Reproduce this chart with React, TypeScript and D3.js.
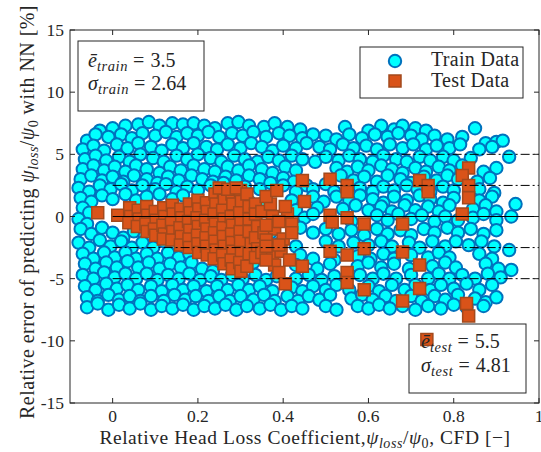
import React from 'react';
import * as d3 from 'd3';

const WIDTH = 541;
const HEIGHT = 452;
const MARGIN = { top: 30, right: 2, bottom: 49, left: 70 };
const FONT = '"Liberation Serif", "Times New Roman", serif';
const INK = '#262626';

const xTicks = [0, 0.2, 0.4, 0.6, 0.8, 1];
const yTicks = [-15, -10, -5, 0, 5, 10, 15];
const solidLevels = [0];
const dashLevels = [5, 2.5, -2.5, -5];
const legendLabels = ['Train Data', 'Test Data'];
const trainStats = ['3.5', '2.64'];
const testStats = ['5.5', '4.81'];

// train samples (x, error %)
const trainPoints: [number, number][] = [
  [-0.03,6.9],[0.0,7.1],[0.03,7.3],[0.06,7.4],[0.085,7.6],[0.11,7.3],[0.14,7.5],[0.165,7.4],[0.19,7.5],[0.215,7.3],[0.24,7.1],[0.27,7.5],[0.295,7.6],[0.32,7.3],[0.355,7.2],[0.38,7.5],[0.41,7.2],[0.44,7.0],[0.545,7.2],[0.6,6.9],[0.63,7.3],[0.66,7.0],[0.68,7.3],[0.71,7.1],[0.735,6.9],[0.85,7.1],
  [-0.06,6.1],[-0.04,6.6],[-0.01,6.4],[0.02,6.6],[0.045,6.3],[0.07,6.7],[0.1,6.5],[0.125,6.8],[0.15,6.4],[0.175,6.7],[0.2,6.5],[0.225,6.8],[0.25,6.4],[0.28,6.7],[0.305,6.5],[0.33,6.8],[0.36,6.4],[0.39,6.7],[0.415,6.5],[0.445,6.3],[0.47,6.6],[0.5,6.5],[0.525,6.2],[0.555,6.6],[0.585,6.3],[0.615,6.6],[0.645,6.4],[0.67,6.7],[0.7,6.5],[0.725,6.2],[0.755,6.5],[0.785,6.2],[0.82,6.4],[0.875,5.9],[0.9,6.0],[0.915,6.1],
  [-0.07,5.4],[-0.045,5.7],[-0.02,5.3],[0.01,5.8],[0.035,5.5],[0.06,5.9],[0.09,5.6],[0.115,5.3],[0.14,5.8],[0.165,5.5],[0.19,5.9],[0.22,5.6],[0.245,5.4],[0.27,5.8],[0.3,5.5],[0.325,5.9],[0.35,5.6],[0.375,5.3],[0.4,5.7],[0.43,5.5],[0.455,5.9],[0.485,5.6],[0.51,5.4],[0.54,5.8],[0.565,5.5],[0.595,5.7],[0.62,5.4],[0.65,5.8],[0.68,5.5],[0.705,5.8],[0.735,5.4],[0.76,5.7],[0.79,5.5],[0.815,5.8],[0.86,5.4],[0.89,5.6],
  [-0.065,4.6],[-0.04,4.9],[-0.015,4.5],[0.015,4.8],[0.04,4.4],[0.065,5.0],[0.095,4.7],[0.12,4.4],[0.15,4.9],[0.175,4.6],[0.2,5.0],[0.23,4.7],[0.255,4.4],[0.285,4.9],[0.31,4.6],[0.34,4.4],[0.365,4.8],[0.39,4.5],[0.42,4.9],[0.445,4.6],[0.475,4.4],[0.5,4.8],[0.53,4.5],[0.555,4.9],[0.58,4.6],[0.61,4.4],[0.635,4.9],[0.665,4.6],[0.69,4.4],[0.72,4.8],[0.745,4.5],[0.775,4.8],[0.8,4.5],[0.84,4.7],[0.93,4.8],
  [-0.07,3.8],[-0.045,4.1],[-0.02,3.7],[0.005,4.0],[0.03,3.6],[0.055,4.1],[0.08,3.8],[0.11,3.5],[0.135,4.0],[0.16,3.7],[0.19,4.1],[0.215,3.8],[0.24,3.6],[0.27,4.0],[0.295,3.7],[0.32,4.1],[0.35,3.8],[0.375,3.5],[0.405,4.0],[0.43,3.7],[0.525,3.9],[0.55,3.6],[0.575,4.0],[0.6,3.7],[0.63,4.1],[0.655,3.8],[0.68,3.5],[0.71,3.9],[0.735,3.6],[0.765,4.0],[0.79,3.7],[0.82,4.1],[0.87,3.6],[0.9,3.9],
  [-0.075,3.0],[-0.05,3.3],[-0.025,2.9],[0.0,3.2],[0.025,2.8],[0.05,3.3],[0.08,3.0],[0.105,2.7],[0.13,3.2],[0.155,2.9],[0.185,3.3],[0.21,3.0],[0.235,2.8],[0.265,3.2],[0.29,2.9],[0.32,3.3],[0.345,3.0],[0.37,2.7],[0.4,3.1],[0.425,2.8],[0.455,2.5],[0.5,2.6],[0.535,3.3],[0.565,2.9],[0.59,3.2],[0.62,2.8],[0.645,3.3],[0.675,3.0],[0.7,2.7],[0.73,3.2],[0.76,2.9],[0.785,3.3],[0.81,3.0],[0.855,2.8],[0.885,3.1],
  [-0.08,2.3],[-0.055,2.0],[-0.03,2.5],[-0.005,2.2],[0.02,2.6],[0.045,2.1],[0.07,2.5],[0.1,2.2],[0.125,2.6],[0.15,2.0],[0.175,2.4],[0.2,2.1],[0.23,2.5],[0.26,2.7],[0.31,2.4],[0.345,2.2],[0.4,2.5],[0.43,2.0],[0.47,2.2],[0.52,2.0],[0.58,2.3],[0.61,2.0],[0.635,2.4],[0.66,2.1],[0.69,2.5],[0.715,2.2],[0.745,2.0],[0.775,2.4],[0.8,2.1],[0.86,2.2],[0.895,1.9],
  [-0.075,1.5],[-0.05,1.2],[-0.025,1.7],[0.0,1.4],[0.03,1.8],[0.055,1.3],[0.08,1.6],[0.11,1.8],[0.14,1.4],[0.165,1.7],[0.29,1.4],[0.32,1.2],[0.35,1.0],[0.42,1.3],[0.47,1.6],[0.495,1.2],[0.525,1.6],[0.555,1.3],[0.58,1.7],[0.61,1.4],[0.635,1.1],[0.66,1.6],[0.69,1.3],[0.72,1.7],[0.745,1.4],[0.775,1.1],[0.8,1.5],[0.86,1.3],[0.89,1.6],[0.945,1.0],
  [-0.07,0.7],[-0.055,0.3],[0.33,0.8],[0.48,0.7],[0.54,0.6],[0.57,0.9],[0.6,0.5],[0.63,0.8],[0.655,0.4],[0.685,0.9],[0.71,0.5],[0.74,0.8],[0.765,0.4],[0.79,0.9],[0.845,0.6],[0.875,0.9],[0.9,0.4],
  [-0.08,-0.2],[-0.06,-0.6],[0.32,0.3],[0.335,-0.2],[0.43,0.5],[0.45,-0.1],[0.47,0.2],[0.56,-0.4],[0.62,0.1],[0.645,-0.3],[0.67,0.2],[0.7,-0.2],[0.725,0.1],[0.755,-0.4],[0.78,0.0],[0.81,-0.3],[0.845,-0.1],[0.87,0.2],[0.9,-0.3],[0.935,0.0],
  [-0.075,-1.0],[-0.05,-1.4],[-0.025,-0.9],[0.0,-1.3],[0.025,-1.7],[0.05,-1.2],[0.075,-1.6],[0.33,-1.1],[0.37,-1.3],[0.44,-0.9],[0.47,-1.3],[0.5,-1.0],[0.53,-1.4],[0.56,-1.1],[0.59,-1.5],[0.62,-1.0],[0.645,-1.4],[0.675,-1.1],[0.7,-1.5],[0.73,-1.0],[0.755,-1.3],[0.785,-0.9],[0.81,-1.3],[0.84,-1.0],[0.87,-1.4],[0.9,-1.1],
  [-0.08,-2.1],[-0.055,-2.5],[-0.03,-1.9],[-0.005,-2.4],[0.02,-2.0],[0.045,-2.5],[0.07,-2.1],[0.095,-2.5],[0.12,-2.0],[0.145,-2.6],[0.31,-2.1],[0.39,-2.2],[0.43,-2.4],[0.5,-2.0],[0.53,-2.4],[0.565,-2.1],[0.6,-2.3],[0.63,-2.0],[0.655,-2.4],[0.695,-2.1],[0.72,-2.5],[0.75,-2.0],[0.78,-2.4],[0.805,-2.0],[0.835,-2.3],[0.865,-2.0],[0.895,-2.4],[0.93,-2.7],
  [-0.07,-3.0],[-0.045,-3.4],[-0.02,-2.9],[0.005,-3.3],[0.03,-2.9],[0.055,-3.4],[0.08,-3.0],[0.105,-3.4],[0.13,-2.9],[0.155,-3.3],[0.18,-3.0],[0.3,-3.2],[0.44,-3.1],[0.47,-3.4],[0.52,-3.5],[0.575,-3.2],[0.605,-3.4],[0.635,-3.0],[0.66,-3.4],[0.7,-3.1],[0.74,-3.3],[0.765,-2.9],[0.79,-3.3],[0.86,-3.0],[0.89,-3.4],
  [-0.065,-3.8],[-0.04,-4.2],[-0.015,-3.7],[0.01,-4.1],[0.035,-3.6],[0.06,-4.1],[0.085,-3.7],[0.11,-4.2],[0.135,-3.8],[0.16,-4.1],[0.185,-3.7],[0.21,-4.2],[0.235,-4.4],[0.31,-4.0],[0.33,-3.7],[0.43,-3.9],[0.48,-4.2],[0.51,-3.8],[0.575,-4.0],[0.6,-3.7],[0.63,-4.1],[0.66,-3.8],[0.695,-4.2],[0.75,-4.0],[0.78,-3.7],[0.805,-4.1],[0.875,-3.8],[0.905,-4.2],[0.935,-4.3],
  [-0.07,-4.7],[-0.045,-5.0],[-0.02,-4.5],[0.005,-4.9],[0.03,-4.6],[0.055,-5.0],[0.08,-4.6],[0.105,-5.1],[0.13,-4.7],[0.155,-5.0],[0.18,-4.6],[0.205,-5.1],[0.23,-4.8],[0.255,-5.1],[0.28,-4.7],[0.305,-5.0],[0.335,-4.7],[0.36,-5.1],[0.385,-4.8],[0.43,-5.0],[0.46,-4.7],[0.49,-5.1],[0.52,-4.8],[0.58,-4.7],[0.61,-5.0],[0.635,-4.6],[0.665,-5.0],[0.7,-4.7],[0.74,-5.0],[0.765,-4.6],[0.79,-5.0],[0.82,-4.7],[0.85,-5.0],[0.88,-4.6],[0.91,-4.9],
  [-0.065,-5.6],[-0.04,-5.9],[-0.015,-5.4],[0.01,-5.8],[0.035,-5.5],[0.06,-5.9],[0.09,-5.6],[0.115,-6.0],[0.14,-5.5],[0.165,-5.9],[0.19,-5.6],[0.22,-6.0],[0.245,-5.6],[0.27,-5.9],[0.295,-5.5],[0.32,-5.9],[0.345,-5.6],[0.375,-6.0],[0.42,-5.7],[0.445,-6.0],[0.47,-5.6],[0.5,-5.9],[0.525,-5.5],[0.555,-5.9],[0.6,-5.6],[0.625,-6.0],[0.655,-5.5],[0.685,-5.9],[0.71,-5.5],[0.745,-5.9],[0.77,-5.5],[0.8,-5.8],[0.83,-5.4],[0.86,-5.9],[0.89,-5.5],
  [-0.06,-6.5],[-0.035,-6.8],[-0.01,-6.3],[0.015,-6.7],[0.04,-6.4],[0.065,-6.8],[0.09,-6.4],[0.12,-6.8],[0.145,-6.3],[0.17,-6.7],[0.195,-6.4],[0.225,-6.8],[0.25,-6.4],[0.275,-6.8],[0.3,-6.4],[0.33,-6.7],[0.355,-6.3],[0.38,-6.8],[0.41,-6.4],[0.435,-6.8],[0.46,-6.4],[0.485,-6.7],[0.51,-6.3],[0.56,-6.6],[0.585,-6.3],[0.61,-6.7],[0.64,-6.4],[0.665,-6.8],[0.7,-6.4],[0.725,-6.8],[0.755,-6.4],[0.78,-6.7],[0.81,-6.3],[0.85,-6.6],[0.875,-6.9],[0.9,-6.5],
  [-0.06,-7.3],[-0.035,-7.0],[-0.01,-7.5],[0.015,-7.1],[0.04,-7.4],[0.065,-7.0],[0.09,-7.5],[0.115,-7.2],[0.14,-7.4],[0.165,-7.1],[0.19,-7.5],[0.215,-7.2],[0.24,-7.4],[0.265,-7.1],[0.29,-7.5],[0.315,-7.2],[0.345,-7.4],[0.37,-7.1],[0.395,-7.5],[0.42,-7.2],[0.445,-7.4],[0.5,-7.2],[0.525,-7.5],[0.575,-7.2],[0.6,-7.4],[0.625,-7.1],[0.65,-7.4],[0.68,-7.2],[0.71,-7.5],[0.74,-7.2],[0.77,-7.4],[0.8,-7.1],[0.83,-7.3],[0.87,-7.2],
];

// test samples
const testPoints: [number, number][] = [
  [-0.035,0.3],[0.012,0.1],
  [0.04,0.7],[0.042,0.0],[0.038,-0.5],
  [0.06,0.5],[0.062,-0.2],[0.058,-0.8],
  [0.08,0.8],[0.082,0.1],[0.078,-0.6],[0.081,-1.2],
  [0.1,0.4],[0.102,-0.3],[0.098,-1.0],[0.101,-1.5],
  [0.12,0.7],[0.122,0.0],[0.118,-0.7],[0.121,-1.4],[0.119,-1.8],
  [0.14,0.9],[0.142,0.2],[0.138,-0.5],[0.141,-1.2],[0.139,-1.9],
  [0.16,0.6],[0.162,-0.1],[0.158,-0.9],[0.161,-1.6],[0.159,-2.3],
  [0.18,1.0],[0.182,0.3],[0.178,-0.4],[0.181,-1.1],[0.179,-1.8],[0.18,-2.5],
  [0.2,1.3],[0.202,0.6],[0.198,-0.1],[0.201,-0.8],[0.199,-1.5],[0.2,-2.2],[0.202,-2.9],
  [0.22,1.1],[0.222,0.4],[0.218,-0.3],[0.221,-1.0],[0.219,-1.7],[0.22,-2.4],[0.222,-3.1],
  [0.24,1.8],[0.242,1.0],[0.238,0.2],[0.241,-0.6],[0.239,-1.3],[0.24,-2.0],[0.242,-2.7],[0.238,-3.4],
  [0.26,2.0],[0.262,1.3],[0.258,0.5],[0.261,-0.2],[0.259,-0.9],[0.26,-1.6],[0.262,-2.4],[0.258,-3.1],[0.261,-3.8],
  [0.28,1.8],[0.282,1.0],[0.278,0.0],[0.281,-0.7],[0.279,-1.4],[0.28,-2.1],[0.282,-2.8],[0.278,-3.5],[0.281,-4.2],
  [0.3,2.1],[0.302,1.2],[0.298,0.3],[0.301,-0.5],[0.299,-1.2],[0.3,-2.0],[0.302,-2.9],[0.298,-3.7],[0.301,-4.4],
  [0.25,2.3],[0.27,2.2],[0.29,2.3],[0.315,1.8],[0.32,0.8],[0.32,-0.2],[0.32,-1.2],[0.325,-2.2],[0.32,-3.0],[0.315,-4.0],
  [0.335,1.0],[0.335,0.2],[0.34,-0.8],[0.335,-1.7],[0.34,-2.6],[0.335,-3.3],
  [0.35,0.4],[0.355,-1.3],[0.35,-2.9],[0.37,1.0],[0.375,0.0],[0.38,-1.0],[0.375,-3.0],[0.38,-3.9],
  [0.4,-1.8],[0.395,-2.8],[0.41,0.2],[0.42,-0.6],
  [0.36,1.6],[0.385,2.1],[0.405,0.8],[0.36,-0.7],[0.39,-0.4],[0.42,-1.3],[0.36,-1.9],[0.36,-2.4],[0.39,-2.3],
  [0.36,-3.5],[0.415,-3.5],[0.39,-4.5],[0.405,-5.4],
  [0.445,2.9],[0.45,1.2],[0.445,-4.0],
  [0.51,3.0],[0.51,0.1],[0.515,-0.45],[0.51,-2.8],
  [0.55,2.5],[0.55,2.0],[0.55,-0.1],[0.55,-3.1],[0.55,-4.5],[0.55,-5.3],
  [0.59,-0.6],[0.59,-2.6],[0.59,-5.9],
  [0.68,-0.6],[0.68,-2.85],[0.68,-6.8],
  [0.72,2.9],[0.74,2.5],[0.74,2.0],[0.72,-3.9],[0.72,-5.8],
  [0.835,3.9],[0.82,3.3],[0.835,2.5],[0.835,1.5],[0.82,0.2],[0.83,-7.0],[0.835,-8.0],
  [0.737,-9.9],
];

const CIRCLE_FILL = '#00ffff';
const CIRCLE_EDGE = '#0072bd';
const SQUARE_FILL = '#d95319';
const SQUARE_EDGE = '#a3491c';

// psi_loss / psi_0 in tspans
function PsiRatio() {
  return (
    <>
      <tspan fontStyle="italic">ψ</tspan>
      <tspan fontStyle="italic" fontSize={14} dy={3.5}>loss</tspan>
      <tspan dy={-3.5}>/</tspan>
      <tspan fontStyle="italic">ψ</tspan>
      <tspan fontSize={14} dy={3.5}>0</tspan>
    </>
  );
}

function StatLine({ x, y, sym, sub, value }: { x: number; y: number; sym: string; sub: string; value: string }) {
  return (
    <text x={x} y={y}>
      <tspan fontStyle="italic">{sym}</tspan>
      <tspan fontStyle="italic" fontSize={14.5} dy={4} letterSpacing={0.6}>{sub}</tspan>
      <tspan dy={-4} dx={5}>=</tspan>
      <tspan dx={6}>{value}</tspan>
    </text>
  );
}

export default function App() {
  const x = d3.scaleLinear().domain([-0.1, 1]).range([MARGIN.left, WIDTH - MARGIN.right]);
  const y = d3.scaleLinear().domain([-15, 15]).range([HEIGHT - MARGIN.bottom, MARGIN.top]);
  const squarePath = d3.symbol().type(d3.symbolSquare).size(144)() as string;
  const [x0, x1] = x.range();
  const [y0, y1] = y.range();

  return (
    <svg width={WIDTH} height={HEIGHT} style={{ position: 'absolute', left: 0, top: 0, background: '#fff' }}
      fontFamily={FONT}>
      <rect width={WIDTH} height={HEIGHT} fill="#fff" />

      {/* train */}
      <g fill={CIRCLE_FILL} stroke={CIRCLE_EDGE} strokeWidth={2}>
        {trainPoints.map((d, i) => <circle key={i} cx={x(d[0])} cy={y(d[1])} r={6.2} />)}
      </g>
      {/* test */}
      <g fill={SQUARE_FILL} stroke={SQUARE_EDGE} strokeWidth={1.5}>
        {testPoints.map((d, i) => <path key={i} d={squarePath} transform={`translate(${x(d[0])},${y(d[1])})`} />)}
      </g>

      {/* reference levels */}
      <g stroke="#000" strokeWidth={1} fill="none">
        {solidLevels.map(v => <line key={v} x1={x(0)} x2={x(1)} y1={y(v)} y2={y(v)} />)}
        {dashLevels.map(v => <line key={v} x1={x(0)} x2={x(1)} y1={y(v)} y2={y(v)} strokeDasharray="9,3,2,3" />)}
      </g>

      {/* axes box + ticks */}
      <g stroke={INK} strokeWidth={1} fill="none">
        <rect x={x0} y={y1} width={x1 - x0} height={y0 - y1} />
        {xTicks.map(t => (
          <g key={t}>
            <line x1={x(t)} x2={x(t)} y1={y0} y2={y0 - 5} />
            <line x1={x(t)} x2={x(t)} y1={y1} y2={y1 + 5} />
          </g>
        ))}
        {yTicks.map(t => (
          <g key={t}>
            <line x1={x0} x2={x0 + 5} y1={y(t)} y2={y(t)} />
            <line x1={x1} x2={x1 - 5} y1={y(t)} y2={y(t)} />
          </g>
        ))}
      </g>
      <g fill={INK} fontSize={17.5}>
        {xTicks.map(t => (
          <text key={t} x={x(t)} y={y0 + 19} textAnchor="middle">{String(t)}</text>
        ))}
        {yTicks.map(t => (
          <text key={t} x={x0 - 6} y={y(t) + 6} textAnchor="end">{String(t)}</text>
        ))}
      </g>

      {/* axis labels */}
      <text x={305} y={444} textAnchor="middle" fontSize={19.5} letterSpacing={0.55} fill={INK}>
        Relative Head Loss Coefficient,<PsiRatio />
        <tspan dy={-3.5}>, CFD [−]</tspan>
      </text>
      <text transform={`translate(34,212) rotate(-90)`} textAnchor="middle" fontSize={20} letterSpacing={0.45} fill={INK}>
        Relative error of predicting <PsiRatio />
        <tspan dy={-3.5}> with NN [%]</tspan>
      </text>

      {/* train stats box */}
      <rect x={78} y={41} width={126} height={70} fill="#fff" stroke={INK} strokeWidth={1} />
      <g fill={INK} fontSize={20}>
        <StatLine x={88} y={67} sym="ē" sub="train" value={trainStats[0]} />
        <StatLine x={88} y={90} sym="σ" sub="train" value={trainStats[1]} />
      </g>

      {/* test stats box */}
      <rect x={409} y={324} width={117} height={69} fill="none" stroke={INK} strokeWidth={1} />
      <g fill={INK} fontSize={20}>
        <StatLine x={421} y={348} sym="ē" sub="test" value={testStats[0]} />
        <StatLine x={421} y={372} sym="σ" sub="test" value={testStats[1]} />
      </g>

      {/* legend */}
      <rect x={360} y={47} width={163} height={51} fill="#fff" stroke={INK} strokeWidth={1} />
      <circle cx={395} cy={61} r={6.2} fill={CIRCLE_FILL} stroke={CIRCLE_EDGE} strokeWidth={2} />
      <path d={squarePath} transform="translate(395,81)" fill={SQUARE_FILL} stroke={SQUARE_EDGE} strokeWidth={1.5} />
      <g fill={INK} fontSize={20} letterSpacing={0.3}>
        <text x={431} y={66}>{legendLabels[0]}</text>
        <text x={431} y={87}>{legendLabels[1]}</text>
      </g>
    </svg>
  );
}
